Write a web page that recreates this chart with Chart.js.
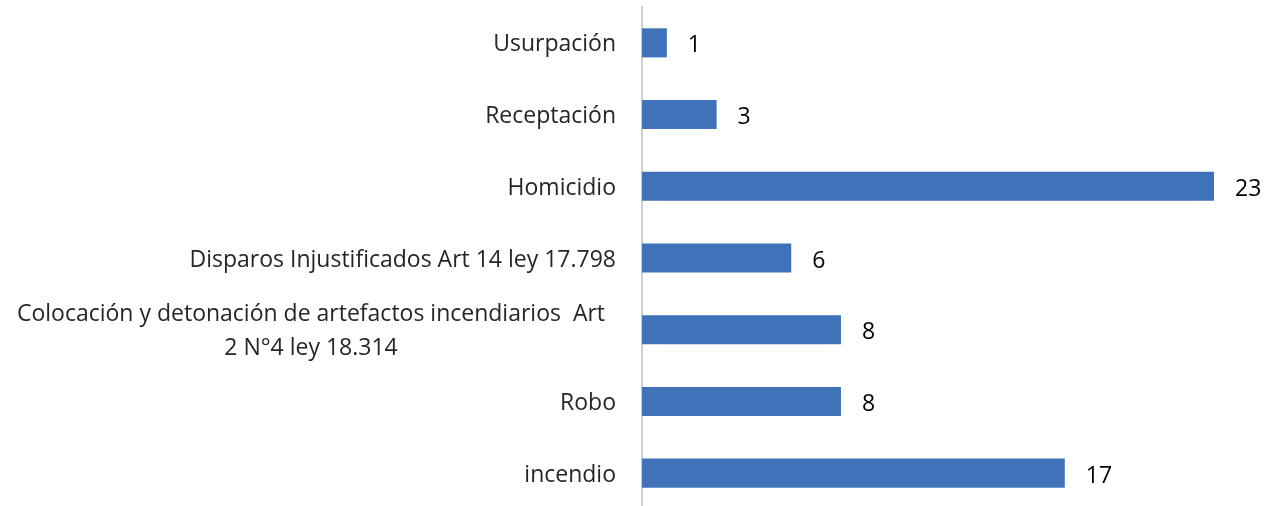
<!DOCTYPE html>
<html>
<head>
<meta charset="utf-8">
<script src="https://cdn.jsdelivr.net/npm/chart.js@4"></script>
<style>
  html, body { margin: 0; padding: 0; background: #fff; overflow: hidden; }
  #wrap { width: 1273px; height: 509px; position: relative; }
</style>
</head>
<body>
<div id="wrap"><canvas id="chart"></canvas></div>
<script>
// categories, top to bottom
const categories = [
  'Usurpación',
  'Receptación',
  'Homicidio',
  'Disparos Injustificados Art 14 ley 17.798',
  ['Colocación y detonación de artefactos incendiarios  Art', '2 N°4 ley 18.314'],
  'Robo',
  'incendio'
];
const counts = [1, 3, 23, 6, 8, 8, 17];

const FONT = '"Open Sans", sans-serif';
const FONT_SIZE = 23;

// value labels at the end of each bar + centred two-line category label
const labelsPlugin = {
  id: 'labels',
  afterDatasetsDraw(chart) {
    const ctx = chart.ctx;
    const meta = chart.getDatasetMeta(0);
    ctx.save();
    ctx.font = FONT_SIZE + 'px ' + FONT;
    ctx.fillStyle = '#000';
    ctx.textAlign = 'left';
    ctx.textBaseline = 'middle';
    meta.data.forEach((bar, i) => {
      ctx.fillText(String(counts[i]), bar.x + 21, bar.y + 3);
    });

    // multi-line category label, each line centred like Excel does
    const yScale = chart.scales.y;
    ctx.fillStyle = '#262626';
    ctx.textAlign = 'center';
    categories.forEach((cat, i) => {
      if (!Array.isArray(cat)) return;
      const y = yScale.getPixelForValue(i) + 2;
      const lineH = 34;
      const startY = y - (cat.length - 1) * lineH / 2;
      cat.forEach((line, k) => {
        ctx.fillText(line, 311, startY + k * lineH);
      });
    });
    ctx.restore();
  }
};

new Chart(document.getElementById('chart').getContext('2d'), {
  type: 'bar',
  data: {
    labels: categories,
    datasets: [{
      data: counts,
      backgroundColor: '#3F72B8',
      borderWidth: 0,
      categoryPercentage: 1,
      barPercentage: 0.405
    }]
  },
  options: {
    indexAxis: 'y',
    responsive: true,
    maintainAspectRatio: false,
    animation: false,
    layout: { padding: { top: 7, right: 59, bottom: 0, left: 0 } },
    plugins: {
      legend: { display: false },
      tooltip: { enabled: false }
    },
    scales: {
      x: {
        display: false,
        min: 0,
        max: 23
      },
      y: {
        afterFit(scale) {
          scale.width = 642;
          scale.paddingTop = 0;
          scale.paddingBottom = 0;
        },
        grid: { display: false, drawTicks: false },
        border: { display: true, color: '#D0D0D0', width: 2 },
        ticks: {
          padding: 26,
          labelOffset: 2,
          color: '#262626',
          font: { family: FONT, size: FONT_SIZE },
          callback(value, index) {
            const c = categories[index];
            return Array.isArray(c) ? '' : c;
          }
        }
      }
    }
  },
  plugins: [labelsPlugin]
});
</script>
</body>
</html>
